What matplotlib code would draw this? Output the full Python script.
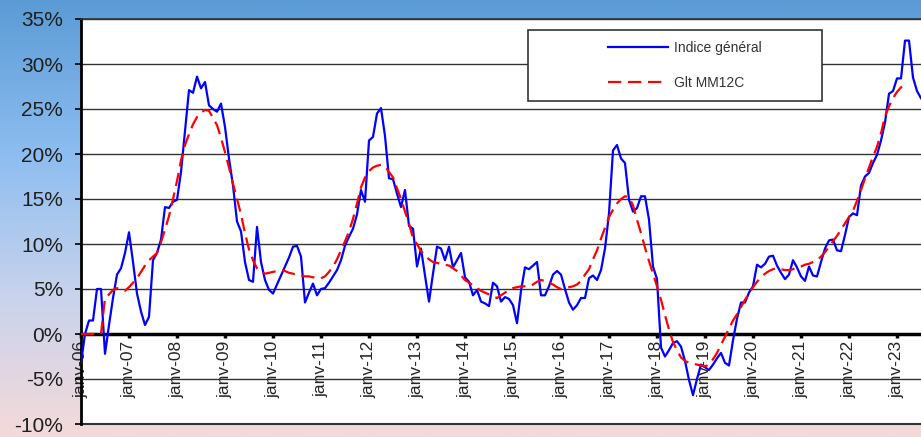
import matplotlib
matplotlib.use('Agg')
from matplotlib import pyplot as plt
from matplotlib.colors import LinearSegmentedColormap
from matplotlib.patches import Rectangle
import numpy as np

plt.rcParams['font.family'] = ['Liberation Sans', 'DejaVu Sans']

# monthly values, janv-06 .. 2023 (in %)
indice_general = [
    -3.2, 0.0, 1.5, 1.5, 5.0, 5.0, -2.2, 1.0, 4.0, 6.6, 7.3, 9.0,
    11.3, 8.0, 4.5, 2.5, 1.0, 1.9, 8.2, 9.0, 10.5, 14.1, 14.0, 14.7,
    14.9, 18.0, 22.5, 27.1, 26.8, 28.6, 27.3, 28.0, 25.4, 25.0, 24.7, 25.6,
    23.0, 19.5, 16.5, 12.5, 11.4, 8.0, 6.0, 5.8, 11.9, 8.0, 6.0, 4.9,
    4.5, 5.5, 6.5, 7.5, 8.5, 9.7, 9.8, 8.6, 3.5, 4.6, 5.6, 4.3,
    5.0, 5.1, 5.7, 6.4, 7.1, 8.2, 9.8, 10.8, 11.7, 13.3, 16.0, 14.7,
    21.5, 21.9, 24.5, 25.1, 22.0, 17.3, 17.2, 15.6, 14.1, 16.0, 12.0, 11.7,
    7.5, 9.5, 6.5, 3.6, 6.7, 9.7, 9.5, 8.2, 9.7, 7.4, 8.2, 9.0,
    6.3, 5.8, 4.3, 4.9, 3.6, 3.4, 3.1, 5.7, 5.3, 3.6, 4.1, 3.9,
    3.2, 1.2, 4.8, 7.4, 7.2, 7.6, 8.0, 4.3, 4.3, 5.3, 6.6, 7.0,
    6.6, 5.0, 3.5, 2.7, 3.2, 4.0, 4.0, 6.2, 6.5, 6.0, 7.1, 9.5,
    13.4, 20.4, 21.0, 19.5, 19.0, 14.9, 13.6, 14.0, 15.3, 15.3, 12.7, 7.5,
    6.1, -1.5, -2.5, -1.8, -1.0, -0.8, -1.4, -3.0, -5.1, -6.8, -5.0, -3.4,
    -3.7, -4.0, -3.4, -2.7, -2.1, -3.2, -3.5, -0.7, 1.7, 3.5, 3.5, 4.6,
    5.3, 7.7, 7.4, 7.8, 8.6, 8.7, 7.6, 6.8, 6.1, 6.6, 8.2, 7.4,
    6.4, 5.9, 7.5, 6.5, 6.4, 8.0, 9.5, 10.4, 10.5, 9.3, 9.2, 11.0,
    13.0, 13.4, 13.2, 16.5, 17.5, 17.9, 19.0, 19.9, 21.5, 23.5, 26.7, 27.0,
    28.4, 28.4, 32.6, 32.6, 28.5, 27.0, 26.2,
]

glt_mm12c = [
    0, 0, 0, 0, 0, 0, 4.0, 4.4, 4.9, 5.1, 4.9, 4.8,
    5.2, 5.7, 6.2, 6.9, 7.6, 8.2, 8.6, 9.0, 10.2, 11.6, 13.1, 15.0,
    17.0, 19.3, 21.0, 22.2, 23.3, 24.1, 24.6, 24.9, 24.8, 24.0, 23.2, 21.8,
    20.2, 18.5, 16.7, 15.0, 13.3, 11.2, 9.4, 8.2, 7.3, 6.9, 6.7, 6.8,
    6.9, 7.0, 7.1, 7.0, 6.8, 6.7, 6.6, 6.5, 6.4, 6.4, 6.3, 6.2,
    6.2, 6.4, 6.9, 7.5, 8.3, 9.3, 10.3, 11.4, 12.8, 14.5, 16.3, 17.4,
    18.1, 18.5, 18.7, 18.8, 18.6, 18.0, 17.4, 16.2, 15.0, 13.6, 12.3, 10.6,
    10.0, 9.2, 8.7, 8.3, 8.0, 7.9, 7.8, 7.7, 7.6, 7.3, 7.0, 6.5,
    6.0, 5.7, 5.4, 5.1, 4.8, 4.6, 4.4, 4.2, 4.0, 4.3, 4.6, 4.9,
    5.1, 5.2, 5.3, 5.3, 5.3, 5.5, 5.8, 6.0, 5.9, 5.7, 5.5, 5.2,
    5.0, 5.1, 5.2, 5.3, 5.5, 5.9, 6.6, 7.2, 8.3, 9.3, 10.6, 11.8,
    13.0, 13.8, 14.5, 15.0, 15.3, 15.2, 14.3, 12.7, 11.2, 9.6, 8.1, 6.7,
    5.3, 3.8, 2.1, 0.5, -0.9, -1.8, -2.6, -3.0, -3.2, -3.3, -3.4, -3.5,
    -3.6, -3.4, -2.8, -2.1, -1.2, -0.3, 0.6, 1.5, 2.2, 3.0, 3.8, 4.5,
    5.2, 5.8, 6.3, 6.7, 7.0, 7.2, 7.3, 7.2, 7.1, 7.1, 7.2, 7.4,
    7.5, 7.7, 7.8, 8.0, 8.2, 8.6, 9.1, 9.7, 10.3, 10.9, 11.6, 12.3,
    13.0, 13.7, 14.8, 16.0, 17.3, 18.5, 19.7, 20.8, 22.3, 24.2, 25.3, 26.2,
    26.9, 27.4, 27.9,
]

years = ['06', '07', '08', '09', '10', '11', '12', '13', '14',
         '15', '16', '17', '18', '19', '20', '21', '22', '23']
tick_labels = ['janv-' + y for y in years]
y_ticks = list(range(-10, 40, 5))

x_ind = np.arange(len(indice_general))
x_mm = np.arange(len(glt_mm12c))

fig = plt.figure(figsize=(9.21, 4.37), dpi=100)

# gradient background behind everything
bg = fig.add_axes([0, 0, 1, 1], zorder=-1)
grad = np.linspace(0, 1, 256).reshape(-1, 1)
cmap = LinearSegmentedColormap.from_list(
    'bg', [(0, '#5b9bd5'), (0.35, '#8dbdf0'), (0.68, '#c9d3ec'), (1, '#f4dada')])
bg.imshow(grad, aspect='auto', cmap=cmap, extent=[0, 1, 0, 1], origin='upper')
bg.axis('off')

ax = fig.add_axes([81 / 921, 13 / 437, 840 / 921, 405 / 437])
ax.set_facecolor('white')

# spine position first: moving it resets the tick settings
ax.spines['bottom'].set_position(('data', 0))
ax.spines['bottom'].set_linewidth(2.5)
ax.spines['bottom'].set_color('black')
ax.spines['left'].set_linewidth(2)
ax.spines['left'].set_color('black')
ax.spines['top'].set_color('#333333')
ax.spines['top'].set_linewidth(1.2)
ax.spines['right'].set_visible(False)

ax.plot(x_ind, indice_general, color='#0000ff', lw=1.6, label='Indice général', zorder=3)
ax.plot(x_mm, glt_mm12c, color='#ff0000', lw=1.6, dashes=(6, 3), label='Glt MM12C', zorder=3)

ax.set_xlim(0, 210)
ax.set_ylim(-10, 35)

ax.set_yticks(y_ticks)
ax.set_yticklabels([f'{v}%' for v in y_ticks], fontsize=15, color='#1f1f1f')
ax.yaxis.grid(True, color='#333333', lw=1)
ax.set_axisbelow(True)
ax.tick_params(axis='y', direction='out', length=4, width=1.2, pad=9)

ax.set_xticks(np.arange(0, 12 * len(tick_labels), 12))
ax.set_xticklabels(tick_labels, fontsize=12.5, color='#262626')
ax.tick_params(axis='x', direction='out', length=3, width=2.5, pad=2, labelrotation=90)

ax.axhline(-10, color='#333333', lw=1.5, clip_on=False, zorder=2)

# legend box (wider than its content, like the original)
box = Rectangle((0.532, 0.798), 0.35, 0.175, transform=ax.transAxes,
                facecolor='white', edgecolor='#333333', lw=1.2, zorder=4)
ax.add_patch(box)
leg = ax.legend(loc='center', bbox_to_anchor=(0.719, 0.885), frameon=False,
                prop={'family': 'Liberation Sans', 'size': 10},
                handlelength=4.3, handletextpad=0.4, labelspacing=1.5)
leg.set_zorder(5)
for t in leg.get_texts():
    t.set_color('#333333')

fig.savefig('out.png', dpi=100)
plt.close()
